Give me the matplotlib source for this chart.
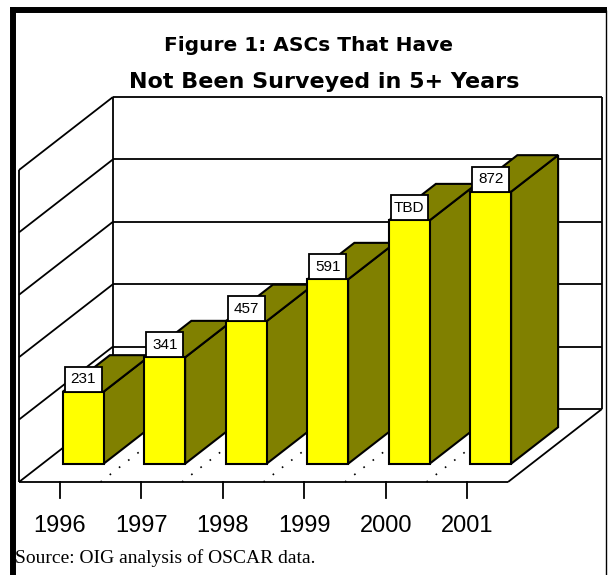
import matplotlib.pyplot as plt
from matplotlib.lines import Line2D
from matplotlib.patches import Polygon, Rectangle

# data
years = ['1996', '1997', '1998', '1999', '2000', '2001']
counts = [231, 341, 457, 591, 780, 872]
bar_labels = ['231', '341', '457', '591', 'TBD', '872']
grid_values = [0, 200, 400, 600, 800, 1000]

W, H = 608, 575
SLOT_PX = 81.5      # pixels per category slot
UNIT_PX = 0.312     # pixels per count
X0_PX, Y0_PX = 19, 482   # front-left floor corner
DX, DY = 1.153, 234      # full depth offset (slots, counts)
D0, D1 = 0.25, 0.75      # bar depth span
BAR_W = 0.5

YELLOW = '#ffff00'
OLIVE = '#808000'

fig = plt.figure(figsize=(W / 100, H / 100), dpi=100)
ax = fig.add_axes([0, 0, 1, 1])
ax.set_xlim(-X0_PX / SLOT_PX, (W - X0_PX) / SLOT_PX)
ax.set_ylim((Y0_PX - H) / UNIT_PX, Y0_PX / UNIT_PX)
ax.axis('off')

n = len(years)
top = grid_values[-1]
wall = dict(color='black', lw=1.3, zorder=1, solid_capstyle='butt')

# back wall and left wall gridlines
for v in grid_values:
    ax.plot([DX, n + DX], [v + DY, v + DY], **wall)
    ax.plot([0, DX], [v, v + DY], **wall)
ax.plot([DX, DX], [DY, top + DY], **wall)
ax.plot([n + DX, n + DX], [DY, top + DY], **wall)
ax.plot([0, 0], [0, top], **wall)

# floor
ax.plot([0, n], [0, 0], **wall)
ax.plot([n, n + DX], [0, DY], **wall)
for k in range(1, n):
    ax.plot([k, k + DX], [0, DY], color='black', lw=1.2,
            linestyle=(0, (1, 6)), zorder=1)

# ticks and year labels
for i, yr in enumerate(years):
    ax.plot([i + 0.5, i + 0.5], [0, -52], color='black', lw=1.3, zorder=1)
    ax.text(i + 0.5, -161, yr, ha='center', va='baseline',
            fontsize=17, family='Liberation Sans')

# 3d bars, drawn left to right so each front face covers the previous side
for i, (v, lab) in enumerate(zip(counts, bar_labels)):
    xl = i + 0.5 - BAR_W / 2 + D0 * DX
    xr = xl + BAR_W
    y0 = D0 * DY
    ddx, ddy = (D1 - D0) * DX, (D1 - D0) * DY
    z = 3 + i
    side = Polygon([(xr, y0), (xr + ddx, y0 + ddy), (xr + ddx, y0 + ddy + v), (xr, y0 + v)],
                   closed=True, facecolor=OLIVE, edgecolor='black', lw=1.5, zorder=z)
    cap = Polygon([(xl, y0 + v), (xl + ddx, y0 + v + ddy), (xr + ddx, y0 + v + ddy), (xr, y0 + v)],
                  closed=True, facecolor=OLIVE, edgecolor='black', lw=1.5, zorder=z)
    front = Rectangle((xl, y0), BAR_W, v, facecolor=YELLOW, edgecolor='black',
                      lw=1.5, zorder=z + 0.1)
    for p in (side, cap, front):
        ax.add_patch(p)
    cx = xl + BAR_W / 2
    ax.add_patch(Rectangle((cx - 0.225, y0 + v), 0.45, 80, facecolor='white',
                           edgecolor='black', lw=1.3, zorder=z + 0.2))
    ax.text(cx, y0 + v + 40, lab, ha='center', va='center', fontsize=11,
            family='Liberation Sans', zorder=z + 0.3)

# titles and source
fig.text(309 / W, 1 - 51 / H, 'Figure 1: ASCs That Have', ha='center', va='baseline',
         fontsize=14.5, fontweight='bold', family='DejaVu Sans')
fig.text(324 / W, 1 - 88 / H, 'Not Been Surveyed in 5+ Years', ha='center', va='baseline',
         fontsize=16, fontweight='bold', family='DejaVu Sans')
fig.text(15 / W, 1 - 563 / H, 'Source: OIG analysis of OSCAR data.', ha='left',
         va='baseline', fontsize=14, family='Liberation Serif')

# outer frame
fig.add_artist(Line2D([10 / W, 607 / W], [1 - 10 / H, 1 - 10 / H], color='black',
                      lw=4.3, solid_capstyle='butt', transform=fig.transFigure))
fig.add_artist(Line2D([13 / W, 13 / W], [1 - 7 / H, 0], color='black',
                      lw=4.3, solid_capstyle='butt', transform=fig.transFigure))
fig.add_artist(Line2D([606 / W, 606 / W], [1 - 10 / H, 0], color='black',
                      lw=1.0, solid_capstyle='butt', transform=fig.transFigure))

fig.savefig('out.png', dpi=100)
